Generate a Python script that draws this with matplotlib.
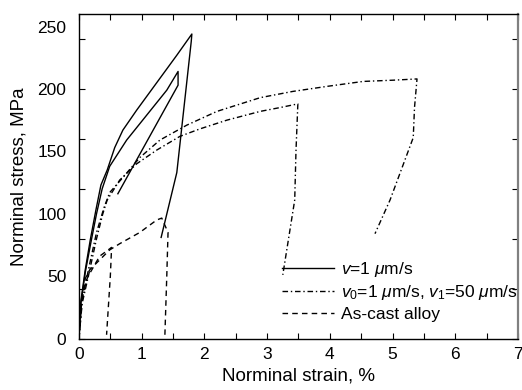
#!/usr/bin/env python3
"""Stress-strain curves: constant rate vs. rate-jump vs. as-cast alloy."""

import matplotlib

matplotlib.use("Agg")

import matplotlib.pyplot as plt
from matplotlib.ticker import FixedLocator, MultipleLocator

OUTPUT = "out.png"

# v = 1 um/s, two specimens (solid)
strain_v1_a = [0, 0.03, 0.10, 0.18, 0.27, 0.35, 0.45, 0.57, 0.70, 0.92, 1.24, 1.56, 1.80, 1.79, 1.56, 1.31]
stress_v1_a = [0, 30, 55, 79, 103, 123, 135, 153, 167, 183, 205, 227, 244, 238, 133, 81]
strain_v1_b = [0, 0.03, 0.10, 0.19, 0.28, 0.37, 0.49, 0.76, 1.08, 1.40, 1.58, 1.58, 0.62]
stress_v1_b = [0, 28, 53, 77, 100, 120, 138, 159, 179, 199, 214, 203, 116]

# v0 = 1 um/s, v1 = 50 um/s (dash-dot)
strain_jump_a = [0, 0.05, 0.15, 0.28, 0.40, 0.49, 0.70, 0.97, 1.29, 1.72, 2.20, 2.89, 3.41, 3.95, 4.53, 5.01, 5.39, 5.35, 5.33, 4.96, 4.72]
stress_jump_a = [0, 30, 55, 85, 105, 117, 129, 145, 159, 171, 182, 193, 198, 202, 206, 207, 208, 185, 161, 111, 84]
strain_jump_b = [0, 0.05, 0.15, 0.28, 0.38, 0.45, 0.65, 0.92, 1.24, 1.61, 1.93, 2.36, 2.89, 3.20, 3.49, 3.46, 3.44, 3.25]
stress_jump_b = [0, 28, 50, 80, 100, 111, 127, 140, 151, 162, 168, 175, 182, 185, 188, 150, 111, 51]

# As-cast alloy (dashed)
strain_cast_a = [0, 0.04, 0.10, 0.17, 0.29, 0.49, 0.65, 0.97, 1.24, 1.32, 1.42, 1.40, 1.37]
stress_cast_a = [0, 30, 48, 55, 61, 71, 76, 85, 95, 96.5, 85, 50, 3]
strain_cast_b = [0, 0.04, 0.10, 0.17, 0.33, 0.52, 0.50, 0.44]
stress_cast_b = [0, 28, 45, 52, 66, 73, 50, 3]

y_label_ticks = [0, 50, 100, 150, 200, 250]
y_mark_ticks = [0, 40, 80, 120, 160, 200, 240]


def main() -> None:
    plt.rcParams["font.family"] = ["Liberation Sans", "DejaVu Sans"]
    plt.rcParams["mathtext.fontset"] = "custom"
    plt.rcParams["mathtext.rm"] = "Liberation Sans"
    plt.rcParams["mathtext.it"] = "Liberation Sans:italic"

    fig = plt.figure(figsize=(5.22, 3.9), dpi=100)
    ax = fig.add_axes([0.1513, 0.132, 0.841, 0.832])

    kw = {"color": "black", "linewidth": 1.0}
    ax.plot(strain_v1_a, stress_v1_a, linestyle="-", label="$v$=1 $\\mu$m/s", **kw)
    ax.plot(strain_v1_b, stress_v1_b, linestyle="-", **kw)
    ax.plot(strain_jump_a, stress_jump_a, dashes=(4, 2, 1, 2),
            label="$v_0$=1 $\\mu$m/s, $v_1$=50 $\\mu$m/s", **kw)
    ax.plot(strain_jump_b, stress_jump_b, dashes=(4, 2, 1, 2), **kw)
    ax.plot(strain_cast_a, stress_cast_a, dashes=(4, 3), label="As-cast alloy", **kw)
    ax.plot(strain_cast_b, stress_cast_b, dashes=(4, 3), **kw)

    ax.set_xlim(0, 7)
    ax.set_ylim(0, 260)

    ax.xaxis.set_major_locator(MultipleLocator(1))
    ax.xaxis.set_minor_locator(MultipleLocator(0.5))
    ax.yaxis.set_major_locator(FixedLocator(y_label_ticks))
    ax.yaxis.set_minor_locator(FixedLocator(y_mark_ticks))
    ax.yaxis.remove_overlapping_locs = False

    ax.tick_params(axis="x", which="both", direction="in", top=True, length=4, width=0.8,
                   labelsize=12.5, pad=6)
    ax.tick_params(axis="y", which="major", length=0, labelsize=12.5, pad=9)
    ax.tick_params(axis="y", which="minor", direction="in", right=True, length=4, width=0.8)

    for side in ("left", "bottom", "top"):
        ax.spines[side].set_linewidth(1.0)
    ax.spines["right"].set_color("#808080")
    ax.spines["right"].set_linewidth(1.6)

    ax.set_xlabel("Norminal strain, %", fontsize=13.5, labelpad=4)
    ax.set_ylabel("Norminal stress, MPa", fontsize=13.5, labelpad=7)

    ax.legend(
        loc="upper left",
        bbox_to_anchor=(0.462, 0.242),
        frameon=False,
        fontsize=12.5,
        handlelength=3.0,
        handletextpad=0.4,
        labelspacing=0.25,
        borderpad=0,
        borderaxespad=0,
    )

    fig.savefig(OUTPUT, dpi=100)
    plt.close(fig)


if __name__ == "__main__":
    main()
